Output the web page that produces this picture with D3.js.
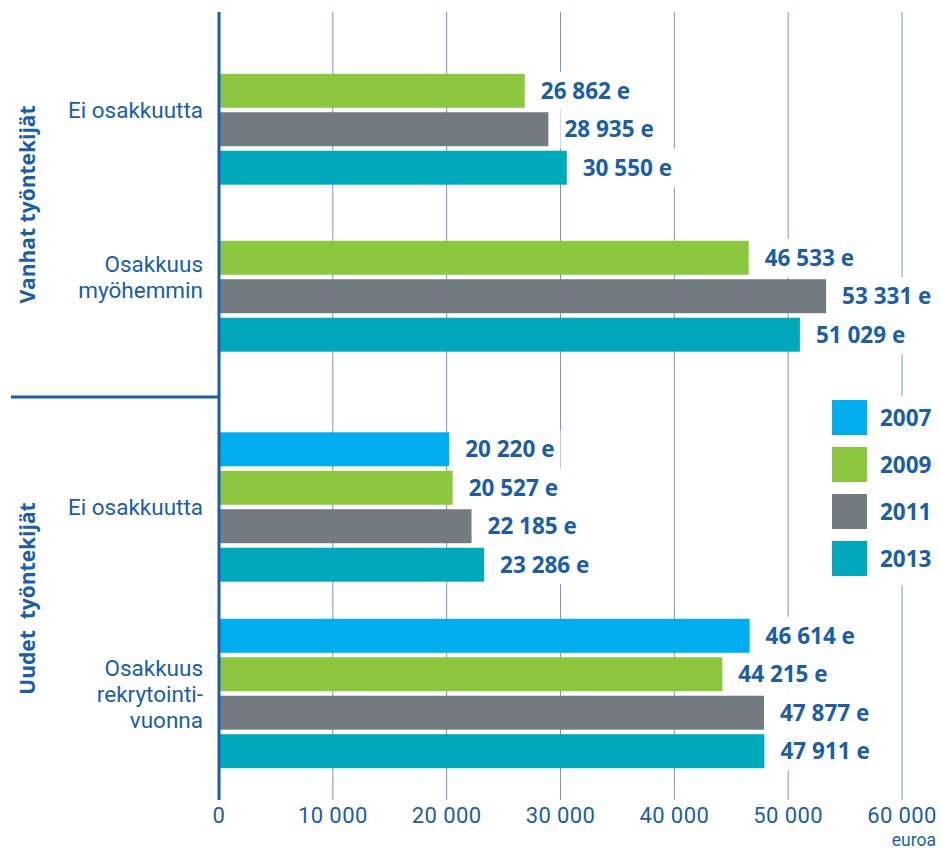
<!DOCTYPE html>
<meta charset="utf-8">
<style>
body { margin: 0; background: #fff; }
text { font-family: "Open Sans", sans-serif; fill: #1a5ea8; }
.grid line { stroke: #6a9ad0; stroke-width: 1px; }
.value { font-weight: 700; font-size: 22.5px; }
.cat { font-family: Roboto, sans-serif; font-size: 22.5px; }
.section { font-weight: 700; font-size: 21px; }
.tick-label { font-family: Roboto, sans-serif; font-size: 22px; letter-spacing: 0.4px; }
.unit { font-family: Roboto, sans-serif; font-size: 17.5px; }
</style>
<body>
<script src="https://d3js.org/d3.v7.min.js"></script>
<script>

// data
var years = ["2007", "2009", "2011", "2013"];
var sectionLabels = ["Vanhat työntekijät", "Uudet  työntekijät"];
var categoryLabels = [["Ei osakkuutta"], ["Osakkuus", "myöhemmin"], ["Ei osakkuutta"], ["Osakkuus", "rekrytointi-", "vuonna"]];
var categorySection = [0, 0, 1, 1];
var values2007 = [null, null, 20220, 46614];
var values2009 = [26862, 46533, 20527, 44215];
var values2011 = [28935, 53331, 22185, 47877];
var values2013 = [30550, 51029, 23286, 47911];
var xTicks = [0, 10000, 20000, 30000, 40000, 50000, 60000];
var unitLabel = "euroa";

var series = [values2007, values2009, values2011, values2013];
var colors = ["#00aeef", "#8dc63f", "#727b80", "#00a8bc"];

// layout
var W = 941, H = 851;
var plotLeft = 219, plotRight = 902, plotTop = 12, plotBottom = 800;
var catCenter = [110, 277, 507, 693.5];   // vertical centre of each category block
var sectionSplit = 397;
var lineGap = 26;

var x = d3.scaleLinear().domain([0, 60000]).range([plotLeft, plotRight]);
var inner = d3.scaleBand().domain(years).range([-77, 77])
    .paddingInner(0.117).paddingOuter(0.06);

var fmt = d3.formatLocale({decimal: ",", thousands: " ", grouping: [3], currency: ["", " €"]}).format(",d");

var svg = d3.select("body").append("svg")
    .attr("width", W)
    .attr("height", H);

// grid lines
svg.append("g").attr("class", "grid")
  .selectAll("line")
  .data(xTicks.slice(1))
  .enter().append("line")
    .attr("x1", function(d) { return x(d); })
    .attr("x2", function(d) { return x(d); })
    .attr("y1", plotTop)
    .attr("y2", plotBottom);

// flatten bars
var bars = [];
categoryLabels.forEach(function(c, ci) {
  years.forEach(function(y, yi) {
    var v = series[yi][ci];
    if (v != null) bars.push({cat: ci, year: y, yi: yi, value: v});
  });
});

function barY(d) { return catCenter[d.cat] + inner(d.year); }

// white boxes behind value labels (they hide the grid)
var labels = svg.append("g");
labels.selectAll("g")
  .data(bars)
  .enter().append("g")
    .each(function(d) {
      var g = d3.select(this);
      var bg = g.append("rect").attr("fill", "#fff");
      var t = g.append("text")
          .attr("class", "value")
          .attr("x", x(d.value) + 16)
          .attr("y", barY(d) + inner.bandwidth() / 2)
          .attr("dy", "0.36em")
          .text(fmt(d.value) + " e");
      var w = t.node().getComputedTextLength();
      bg.attr("x", x(d.value) + 12)
        .attr("y", barY(d) - 2)
        .attr("width", w + 10)
        .attr("height", inner.step());
    });

// bars
svg.append("g")
  .selectAll("rect")
  .data(bars)
  .enter().append("rect")
    .attr("x", x(0))
    .attr("y", barY)
    .attr("width", function(d) { return x(d.value) - x(0); })
    .attr("height", inner.bandwidth())
    .attr("fill", function(d) { return colors[d.yi]; });

// left axis + section separator
svg.append("line")
    .attr("x1", x(0)).attr("x2", x(0))
    .attr("y1", plotTop).attr("y2", plotBottom)
    .attr("stroke", "#1a5ea8").attr("stroke-width", 3);
svg.append("line")
    .attr("x1", 11).attr("x2", x(0))
    .attr("y1", sectionSplit).attr("y2", sectionSplit)
    .attr("stroke", "#1a5ea8").attr("stroke-width", 3);

// category labels, one text per line
categoryLabels.forEach(function(lines, ci) {
  lines.forEach(function(l, i) {
    svg.append("text")
        .attr("class", "cat")
        .attr("text-anchor", "end")
        .attr("x", 203)
        .attr("y", catCenter[ci] + (i - (lines.length - 1) / 2) * lineGap)
        .attr("dy", "0.36em")
        .text(l);
  });
});

// section labels (rotated)
var sectionMid = [(plotTop + sectionSplit) / 2, (sectionSplit + plotBottom) / 2];
sectionLabels.forEach(function(s, si) {
  svg.append("text")
      .attr("class", "section")
      .attr("transform", "translate(27," + sectionMid[si] + ") rotate(-90)")
      .attr("text-anchor", "middle")
      .attr("dy", "0.36em")
      .style("white-space", "pre")
      .text(s);
});

// x tick labels
svg.append("g")
  .selectAll("text")
  .data(xTicks)
  .enter().append("text")
    .attr("class", "tick-label")
    .attr("x", function(d) { return x(d); })
    .attr("y", 823)
    .attr("text-anchor", "middle")
    .text(function(d) { return fmt(d); });

svg.append("text")
    .attr("class", "unit")
    .attr("x", 936)
    .attr("y", 846)
    .attr("text-anchor", "end")
    .text(unitLabel);

// legend
var legend = svg.append("g");
legend.append("rect")
    .attr("x", 826).attr("y", 396)
    .attr("width", W - 826).attr("height", 189)
    .attr("fill", "#fff");
var ly = d3.scalePoint().domain(years).range([400, 541]);
legend.selectAll("g")
  .data(years)
  .enter().append("g")
    .each(function(d, i) {
      var g = d3.select(this);
      g.append("rect")
          .attr("x", 832).attr("y", ly(d))
          .attr("width", 35).attr("height", 35)
          .attr("fill", colors[i]);
      g.append("text")
          .attr("class", "value")
          .attr("x", 880)
          .attr("y", ly(d) + 17.5)
          .attr("dy", "0.36em")
          .text(d);
    });

</script>
</body>
